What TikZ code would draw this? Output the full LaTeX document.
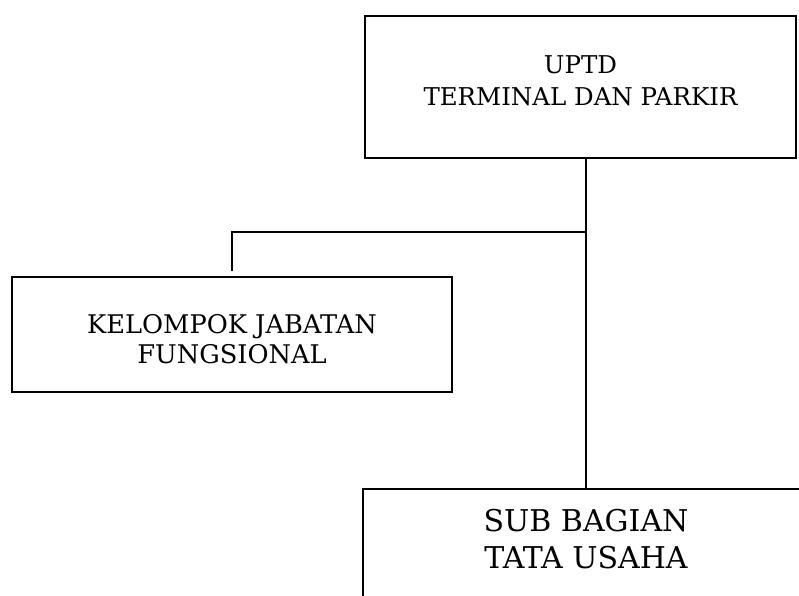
\documentclass[tikz,border=0pt]{standalone}
\usepackage{fontspec}
\setmainfont{DejaVu Serif}
\usetikzlibrary{positioning}

\begin{document}
\begin{tikzpicture}[
  x=1pt, y=-1pt,
  box/.style={draw, line width=1.8pt, align=center, inner sep=0pt},
  textbox/.style={align=center, inner sep=0pt},
  conn/.style={line width=1.8pt}
]
\useasboundingbox (0,0) rectangle (799,595);
\node[box, minimum width=431pt, minimum height=142pt, font=\fontsize{24.5}{32}\selectfont] (uptd) at (580.5,87) {UPTD\\TERMINAL DAN PARKIR\rule[-12pt]{0pt}{0pt}};
\node[box, minimum width=440pt, minimum height=115pt, font=\fontsize{25.7}{30}\selectfont] (kjf) at (232,334.5) {\rule{0pt}{28pt}KELOMPOK JABATAN\\FUNGSIONAL};
\node[textbox, minimum width=446pt, minimum height=100pt, font=\fontsize{30}{37}\selectfont] (tu) at (586,539) {SUB BAGIAN\\TATA USAHA};
\coordinate (fork) at (586,232);
% bottom box runs off the page
\draw[conn] ([yshift=-130pt]tu.north west) -- (tu.north west) -- (tu.north east) -- ++(0,130);
\draw[conn] (uptd.south -| tu.north) -- (tu.north);
\draw[conn, shorten >=5pt] (fork) -| (kjf.north);
\end{tikzpicture}
\end{document}
